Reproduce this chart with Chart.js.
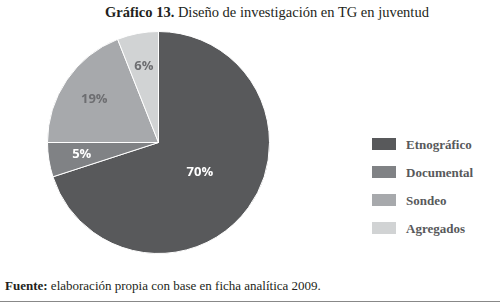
<!DOCTYPE html>
<html>
<head>
<meta charset="utf-8">
<script src="https://cdn.jsdelivr.net/npm/chart.js@4"></script>
<style>
  html, body { margin: 0; padding: 0; background: #fff; }
  body { width: 500px; height: 303px; position: relative; overflow: hidden; font-family: "Liberation Serif", serif; color: #231f20; }
  .title { position: absolute; top: 4px; left: 105px; white-space: nowrap; font-size: 14.5px; }
  .chart-box { position: absolute; left: 0; top: 28px; width: 330px; height: 232px; }
  .legend { position: absolute; left: 372px; top: 137px; }
  .legend div { height: 28px; font-weight: bold; font-size: 13px; color: #58595b; display: flex; align-items: flex-start; }
  .legend span.sw { display: inline-block; width: 24px; height: 12px; margin-right: 10px; margin-top: 1px; }
  .footer { position: absolute; left: 5px; top: 278px; font-size: 13px; }
  .rule { position: absolute; left: 0; top: 301px; width: 500px; height: 1px; background: #888; }
</style>
</head>
<body>
<div class="title"><b>Gráfico 13.</b> Diseño de investigación en TG en juventud</div>
<div class="chart-box"><canvas id="pie"></canvas></div>
<div class="legend" id="legend"></div>
<div class="footer"><b>Fuente:</b> elaboración propia con base en ficha analítica 2009.</div>
<div class="rule"></div>
<script>
const categories = ['Etnográfico', 'Documental', 'Sondeo', 'Agregados'];
const values = [70, 5, 19, 6];
const colors = ['#58595b', '#808285', '#a7a9ac', '#d1d3d4'];
const labelColors = ['#ffffff', '#ffffff', '#6d6e71', '#6d6e71'];

document.addEventListener('DOMContentLoaded', () => {
    // leyenda en HTML
    const legend = document.getElementById('legend');
    categories.forEach((c, i) => {
        const row = document.createElement('div');
        row.innerHTML = '<span class="sw" style="background:' + colors[i] + '"></span>' + c;
        legend.appendChild(row);
    });

    // etiquetas de porcentaje dentro de cada porción
    const pctLabels = {
        id: 'pctLabels',
        afterDatasetsDraw(chart) {
            const ctx = chart.ctx;
            const meta = chart.getDatasetMeta(0);
            ctx.save();
            ctx.font = 'bold 13px "Open Sans", sans-serif';
            ctx.textAlign = 'center';
            ctx.textBaseline = 'middle';
            meta.data.forEach((arc, i) => {
                const mid = (arc.startAngle + arc.endAngle) / 2;
                const f = values[i] > 50 ? 0.46 : 0.7;
                const x = arc.x + Math.cos(mid) * arc.outerRadius * f;
                const y = arc.y + Math.sin(mid) * arc.outerRadius * f;
                ctx.fillStyle = labelColors[i];
                ctx.fillText(values[i] + '%', x, y);
            });
            ctx.restore();
        }
    };

    new Chart(document.getElementById('pie'), {
        type: 'pie',
        data: {
            labels: categories,
            datasets: [{
                data: values,
                backgroundColor: colors,
                borderColor: '#ffffff',
                borderWidth: 1
            }]
        },
        options: {
            responsive: true,
            maintainAspectRatio: false,
            animation: false,
            layout: { padding: { left: 46, right: 59, top: 3, bottom: 6 } },
            plugins: {
                legend: { display: false },
                tooltip: { enabled: false }
            }
        },
        plugins: [pctLabels]
    });
});
</script>
</body>
</html>
